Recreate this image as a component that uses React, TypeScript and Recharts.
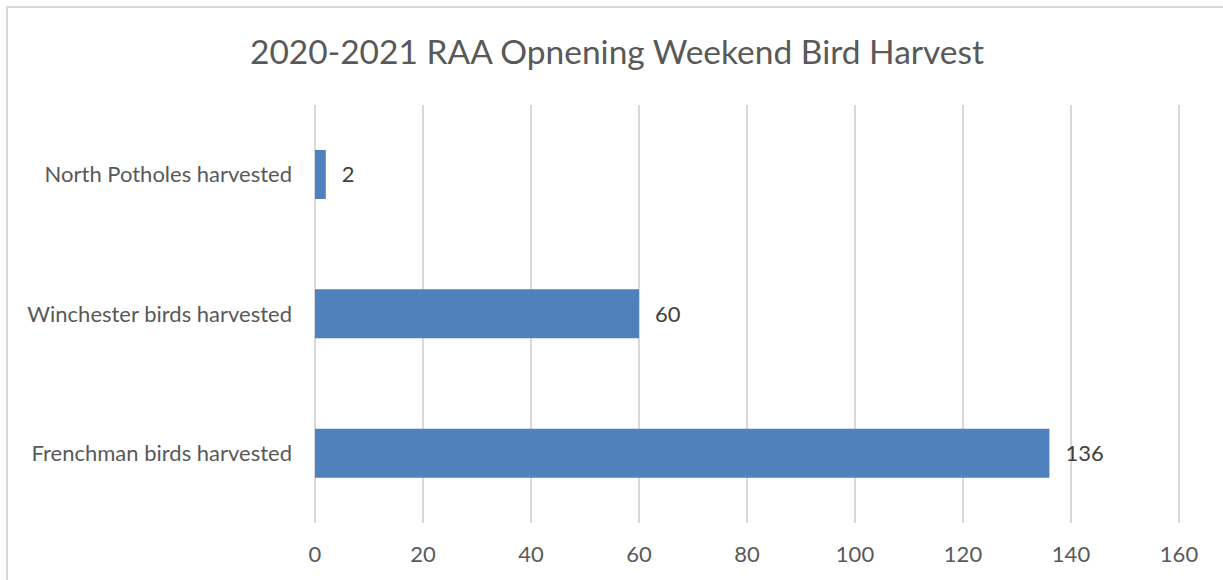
import { BarChart, Bar, XAxis, YAxis, CartesianGrid, LabelList } from 'recharts'

const categories = ['North Potholes harvested', 'Winchester birds harvested', 'Frenchman birds harvested']
const harvested = [2, 60, 136]
const xTicks = [0, 20, 40, 60, 80, 100, 120, 140, 160]

const data = categories.map((name, i) => ({ name, value: harvested[i] }))

const FONT = 'Lato, "Open Sans", sans-serif'

export default function App() {
  return (
    <div style={{ position: 'absolute', left: 0, top: 0, width: 1223, height: 580, background: '#fff', fontFamily: FONT }}>
      <div style={{
        position: 'absolute', left: 6, top: 6, width: 1240, height: 600,
        borderTop: '2px solid #d9d9d9', borderLeft: '2px solid #d9d9d9',
      }} />
      <div style={{
        position: 'absolute', left: 0, top: 26, width: 1234, textAlign: 'center',
        fontSize: 33.5, color: '#595959', lineHeight: '50px',
      }}>
        2020-2021 RAA Opnening Weekend Bird Harvest
      </div>
      <div style={{ position: 'absolute', left: 0, top: 0 }}>
        <BarChart
          width={1223}
          height={580}
          data={data}
          layout="vertical"
          margin={{ top: 105, right: 44, bottom: 0, left: 0 }}
        >
          <CartesianGrid horizontal={false} stroke="#d9d9d9" strokeWidth={2} />
          <XAxis
            type="number"
            domain={[0, 160]}
            ticks={xTicks}
            axisLine={false}
            tickLine={false}
            height={57}
            tickMargin={17}
            tick={{ fill: '#595959', fontSize: 22, fontFamily: FONT }}
          />
          <YAxis
            type="category"
            dataKey="name"
            width={315}
            axisLine={false}
            tickLine={false}
            tickSize={0}
            tickMargin={23}
            tick={{ fill: '#595959', fontSize: 22, fontFamily: FONT }}
          />
          <Bar dataKey="value" fill="#4f81bd" barSize={49} isAnimationActive={false}>
            <LabelList dataKey="value" position="right" offset={16} fill="#404040" fontSize={22} fontFamily={FONT} />
          </Bar>
        </BarChart>
      </div>
    </div>
  )
}
